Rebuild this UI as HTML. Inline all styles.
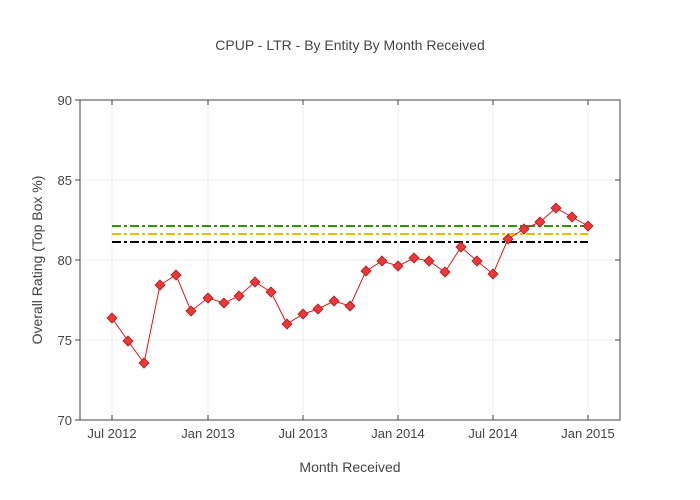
<!DOCTYPE html>
<html><head><meta charset="utf-8"><style>body{margin:0;background:#fff}svg{display:block}text{font-family:"Liberation Sans",sans-serif;fill:#444}</style></head>
<body>
<svg width="700" height="500" xmlns="http://www.w3.org/2000/svg">
<rect width="700" height="500" fill="#fff"/>
<g stroke="#eee" stroke-width="1">
<line x1="112" y1="100" x2="112" y2="420"/><line x1="208" y1="100" x2="208" y2="420"/><line x1="303" y1="100" x2="303" y2="420"/><line x1="398" y1="100" x2="398" y2="420"/><line x1="493" y1="100" x2="493" y2="420"/><line x1="588" y1="100" x2="588" y2="420"/>
<line x1="80" y1="180" x2="620" y2="180"/><line x1="80" y1="260" x2="620" y2="260"/><line x1="80" y1="340" x2="620" y2="340"/>
</g>
<rect x="80" y="100" width="540" height="320" fill="none" stroke="#444" stroke-width="1"/>
<g stroke="#444"><line x1="80" y1="100" x2="75" y2="100"/><line x1="80" y1="180" x2="75" y2="180"/><line x1="80" y1="260" x2="75" y2="260"/><line x1="80" y1="340" x2="75" y2="340"/><line x1="80" y1="420" x2="75" y2="420"/>
<line x1="620" y1="100" x2="615" y2="100"/><line x1="620" y1="180" x2="615" y2="180"/><line x1="620" y1="260" x2="615" y2="260"/><line x1="620" y1="340" x2="615" y2="340"/>
<line x1="112" y1="420" x2="112" y2="415"/><line x1="208" y1="420" x2="208" y2="415"/><line x1="303" y1="420" x2="303" y2="415"/><line x1="398" y1="420" x2="398" y2="415"/><line x1="493" y1="420" x2="493" y2="415"/><line x1="588" y1="420" x2="588" y2="415"/>
<line x1="112" y1="100" x2="112" y2="105"/><line x1="208" y1="100" x2="208" y2="105"/><line x1="303" y1="100" x2="303" y2="105"/><line x1="398" y1="100" x2="398" y2="105"/><line x1="493" y1="100" x2="493" y2="105"/><line x1="588" y1="100" x2="588" y2="105"/></g>
<g font-size="13" text-anchor="end"><text x="72" y="105">90</text><text x="72" y="185">85</text><text x="72" y="265">80</text><text x="72" y="345">75</text><text x="72" y="425">70</text></g>
<g font-size="13" text-anchor="middle"><text x="112" y="438">Jul 2012</text><text x="208" y="438">Jan 2013</text><text x="303" y="438">Jul 2013</text><text x="398" y="438">Jan 2014</text><text x="493" y="438">Jul 2014</text><text x="588" y="438">Jan 2015</text></g>
<text x="350" y="50" font-size="14" text-anchor="middle">CPUP - LTR - By Entity By Month Received</text>
<text x="350" y="472" font-size="14" text-anchor="middle">Month Received</text>
<text transform="translate(42,260) rotate(-90)" font-size="14" text-anchor="middle">Overall Rating (Top Box %)</text>
<g stroke-width="2" stroke-dasharray="9,3,3,3" fill="none">
<line x1="112" y1="226" x2="588" y2="226" stroke="#2a9a00"/>
<line x1="112" y1="234" x2="588" y2="234" stroke="#e0c000"/>
<line x1="112" y1="242" x2="588" y2="242" stroke="#000"/>
</g>
<polyline fill="none" stroke="#e8161a" stroke-width="1" points="112,318 128,341 144,363 160,285 176,275 191,311 208,298 224,303 239,296 255,282 271,292 287,324 303,314 318,309 334,301 350,306 366,271 382,261 398,266 414,258 429,261 445,272 461,247 477,261 493,274 508,239 524,229 540,222 556,208 572,217 588,226"/>
<g fill="#e8383a" stroke="#b01010" stroke-width="0.8">
<script>/* none */</script>
</g>
<g fill="#e8383a" stroke="#b51818" stroke-width="0.8">
<path d="M112,313l5,5-5,5-5-5z"/><path d="M128,336l5,5-5,5-5-5z"/><path d="M144,358l5,5-5,5-5-5z"/><path d="M160,280l5,5-5,5-5-5z"/><path d="M176,270l5,5-5,5-5-5z"/><path d="M191,306l5,5-5,5-5-5z"/><path d="M208,293l5,5-5,5-5-5z"/><path d="M224,298l5,5-5,5-5-5z"/><path d="M239,291l5,5-5,5-5-5z"/><path d="M255,277l5,5-5,5-5-5z"/><path d="M271,287l5,5-5,5-5-5z"/><path d="M287,319l5,5-5,5-5-5z"/><path d="M303,309l5,5-5,5-5-5z"/><path d="M318,304l5,5-5,5-5-5z"/><path d="M334,296l5,5-5,5-5-5z"/><path d="M350,301l5,5-5,5-5-5z"/><path d="M366,266l5,5-5,5-5-5z"/><path d="M382,256l5,5-5,5-5-5z"/><path d="M398,261l5,5-5,5-5-5z"/><path d="M414,253l5,5-5,5-5-5z"/><path d="M429,256l5,5-5,5-5-5z"/><path d="M445,267l5,5-5,5-5-5z"/><path d="M461,242l5,5-5,5-5-5z"/><path d="M477,256l5,5-5,5-5-5z"/><path d="M493,269l5,5-5,5-5-5z"/><path d="M508,234l5,5-5,5-5-5z"/><path d="M524,224l5,5-5,5-5-5z"/><path d="M540,217l5,5-5,5-5-5z"/><path d="M556,203l5,5-5,5-5-5z"/><path d="M572,212l5,5-5,5-5-5z"/><path d="M588,221l5,5-5,5-5-5z"/>
</g>
</svg>
</body></html>
